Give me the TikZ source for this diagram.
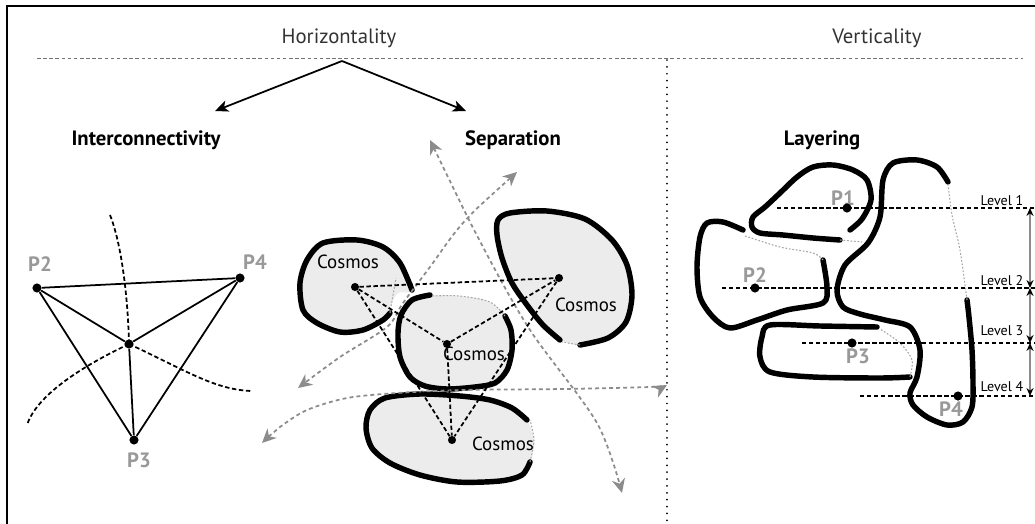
\documentclass[tikz,border=0pt]{standalone}
\usepackage{fontspec}
\setmainfont{PT Sans}
\usepackage{tikz}
\usetikzlibrary{arrows.meta, positioning}
\tikzset{>={Stealth[length=7.5pt,width=6.5pt,inset=2pt]}}
\tikzset{
  dot/.style={circle, fill=black, inner sep=0pt, minimum size=5.2pt},
  sdot/.style={circle, fill=black, inner sep=0pt, minimum size=4.6pt},
  plabel/.style={text=black!40, font=\bfseries\fontsize{11.8}{13}\selectfont, inner sep=0pt},
  cosmoslabel/.style={font=\fontsize{10.8}{12}\selectfont, inner sep=0pt},
  heading/.style={font=\bfseries\fontsize{11.8}{13}\selectfont, inner sep=0pt},
  title/.style={text=black!80, font=\fontsize{11.8}{13}\selectfont, inner sep=0pt},
  lvllabel/.style={font=\fontsize{8}{9}\selectfont, inner sep=0pt, anchor=base},
  link/.style={line width=1pt},
  dsh/.style={line width=1pt, dash pattern=on 2.5pt off 1.5pt},
  flow/.style={black!45, line width=1pt, dash pattern=on 2.2pt off 1.8pt,
    {Stealth[length=8pt,width=7.5pt,inset=2.5pt]}-{Stealth[length=8pt,width=7.5pt,inset=2.5pt]}},
  blob/.style={line width=3.1pt, line cap=round, line join=round},
  faint/.style={black!35, line width=0.6pt, dash pattern=on 1pt off 1pt},
  cell/.style={fill=gray!15},
}

\begin{document}
\begin{tikzpicture}[x=0.02cm, y=-0.02cm]
\useasboundingbox (0,0) rectangle (1035,524);

\draw[line width=1.3pt] (7,524) -- (7,6) -- (1040,6);
\draw[black!55, line width=0.55pt, dash pattern=on 2pt off 1.5pt] (37,58) -- (1023,58);
\draw[line width=1.1pt, dash pattern=on 0.01pt off 3.9pt, line cap=round] (667,60) -- (667,524);

\node[title] (horiz) at (339,38) {Horizontality};
\node[title] (vert) at (877,38) {Verticality};
\coordinate (apex) at (342,61);
\coordinate (left) at (215,111);
\coordinate (right) at (466,111);
\draw[line width=1pt, ->] (apex) -- (left);
\draw[line width=1pt, ->] (apex) -- (right);

\node[heading] (inter) at (146,140) {Interconnectivity};
\node[heading] (sep) at (513,140) {Separation};
\node[heading] (layer) at (822,140) {Layering};

% interconnectivity
\node[dot] (p2) at (37,288) {};
\node[dot] (p4) at (240,278) {};
\node[dot] (mid) at (129,344) {};
\node[dot] (p3) at (134,440) {};
\node[plabel] (p2l) at (40,264) {P2};
\node[plabel] (p4l) at (255,262) {P4};
\node[plabel] (p3l) at (139,460) {P3};
\coordinate (ct) at (110,215);
\coordinate (cl) at (27,425);
\coordinate (cr) at (252,391);
\draw[dsh] (ct) .. controls (122,245) and (128,300) .. (mid.center);
\draw[dsh] (mid.center) .. controls (70,372) and (35,400) .. (cl);
\draw[dsh] (mid.center) .. controls (185,370) and (215,390) .. (cr);
\draw[link] (p2) -- (p4);
\draw[link] (p2) -- (mid);
\draw[link] (p4) -- (mid);
\draw[link] (p2) -- (p3);
\draw[link] (p4) -- (p3);
\draw[link] (mid) -- (p3);

% separation
\path[cell] plot[smooth cycle] coordinates {(412,290) (400,263) (383,247) (357,240) (323,243) (307,260) (300,283) (303,310) (317,323) (340,332) (363,330) (383,320) (391,305) (398,293)};
\path[cell] plot[smooth cycle] coordinates {(430,295) (412,300) (401,315) (398,333) (400,357) (410,377) (425,386) (447,389) (475,387) (495,383) (507,370) (512,350) (511,330) (503,312) (485,300) (460,296)};
\path[cell] plot[smooth cycle] coordinates {(560,340) (543,325) (527,305) (512,283) (502,258) (497,235) (498,220) (510,213) (547,211) (585,219) (612,240) (627,265) (632,295) (626,322) (608,338) (580,345)};
\path[cell] plot[smooth cycle] coordinates {(527,420) (512,408) (490,400) (460,396) (420,394) (385,398) (370,410) (366,428) (372,448) (390,463) (420,475) (457,482) (500,481) (522,475) (531,460) (534,440)};

\draw[blob] plot[smooth] coordinates {(412,290) (400,263) (383,247) (357,240) (323,243) (307,260) (300,283) (303,310) (317,323) (340,332) (363,330) (383,320) (390,313)};
\draw[faint] plot[smooth] coordinates {(390,313) (393,295) (396,278)};
\draw[blob] plot[smooth] coordinates {(430,295) (412,300) (401,315) (398,333) (400,357) (410,377) (425,386) (447,389) (475,387) (495,383) (507,370) (512,350) (511,330) (505,316)};
\draw[faint] plot[smooth] coordinates {(505,316) (490,302) (460,296) (432,296)};
\draw[blob] plot[smooth] coordinates {(560,340) (543,325) (527,305) (512,283) (502,258) (497,235) (498,220) (510,213) (547,211) (585,219) (612,240) (627,265) (632,295) (626,322) (608,338) (580,345)};
\draw[faint] (580,345) -- (562,342);
\draw[blob] plot[smooth] coordinates {(527,420) (512,408) (490,400) (460,396) (420,394) (385,398) (370,410) (366,428) (372,448) (390,463) (420,475) (457,482) (500,481) (522,475) (530,462)};
\draw[faint] plot[smooth] coordinates {(530,462) (534,440) (530,420)};

\draw[flow] plot[smooth] coordinates {(430,140) (483,247) (530,330) (597,423) (622,493)};
\draw[flow] plot[smooth] coordinates {(517,172) (463,223) (430,267) (403,303) (387,327) (340,357) (298,388)};
\draw[flow] plot[smooth] coordinates {(262,443) (280,427) (307,410) (347,398) (397,393) (463,390) (563,389) (650,387) (667,385)};

\node[sdot] (ca) at (355,287) {};
\node[sdot] (cb) at (447,344) {};
\node[sdot] (cc) at (559,278) {};
\node[sdot] (cd) at (452,440) {};
\draw[dsh] (ca) -- (cb);
\draw[dsh] (ca) -- (cc);
\draw[dsh] (ca) -- (cd);
\draw[dsh] (cb) -- (cc);
\draw[dsh] (cb) -- (cd);
\draw[dsh] (cc) -- (cd);
\node[cosmoslabel] (la) at (348,262) {Cosmos};
\node[cosmoslabel] (lb) at (474,354) {Cosmos};
\node[cosmoslabel] (lc) at (586,305) {Cosmos};
\node[cosmoslabel] (ld) at (503,444) {Cosmos};

% layering
\draw[blob] plot[smooth] coordinates {(850,230) (862,219) (871,200) (867,180) (853,170) (833,165) (813,167) (797,177) (780,193) (765,207) (753,217) (752,227) (760,233) (783,235) (813,238) (840,240)};
\draw[faint] (840,240) -- (862,242);
\draw[blob] plot[smooth] coordinates {(948,182) (937,167) (917,160) (893,163) (883,180) (880,217) (868,243) (845,265) (837,290) (843,307) (860,314) (885,320) (910,327) (920,350) (917,377) (910,393) (913,405) (927,417) (947,425) (963,422) (972,407) (973,383) (972,350) (969,317) (967,300)};
\draw[faint] plot[smooth] coordinates {(967,300) (960,250) (952,215) (948,184)};
\draw[blob] plot[smooth] coordinates {(743,230) (723,222) (707,223) (700,237) (697,267) (700,297) (713,317) (730,328) (757,320) (787,310) (823,303) (827,287) (823,260)};
\draw[faint] plot[smooth] coordinates {(823,260) (813,253) (780,247) (745,236)};
\draw[blob] plot[smooth] coordinates {(877,327) (820,326) (770,325) (762,337) (760,357) (770,372) (813,377) (880,378) (910,377)};
\draw[faint] plot[smooth] coordinates {(910,377) (912,360) (900,343) (880,329)};

\node[plabel] (q1l) at (843,198) {P1};
\node[plabel] (q2l) at (755,275) {P2};
\node[plabel] (q3l) at (858,356) {P3};
\node[plabel] (q4l) at (951,409) {P4};
\foreach \n/\x/\y/\dx/\dy in {1/777/208/847/2, 2/722/288/755/2, 3/802/343/852/-3, 4/860/396/958/0} {
  \coordinate (ls\n) at (\x,\y);
  \coordinate (le\n) at (1035,\y);
  \draw[dsh] (ls\n) -- (le\n);
  \node[dot] (q\n) at (\dx,\y) {};
  \node[lvllabel] (lv\n) at (1002,\y-5+\dy) {Level \n};
}
\coordinate (ax1) at (1030,208);
\coordinate (ax2) at (1030,288);
\coordinate (ax3) at (1030,343);
\coordinate (ax4) at (1030,396);
\foreach \a/\b in {ax1/ax2, ax2/ax3, ax3/ax4}
  \draw[black!45, line width=0.9pt, {Stealth[length=4.5pt,width=4pt,black]}-{Stealth[length=4.5pt,width=4pt,black]}] (\a) -- (\b);
\end{tikzpicture}
\end{document}
